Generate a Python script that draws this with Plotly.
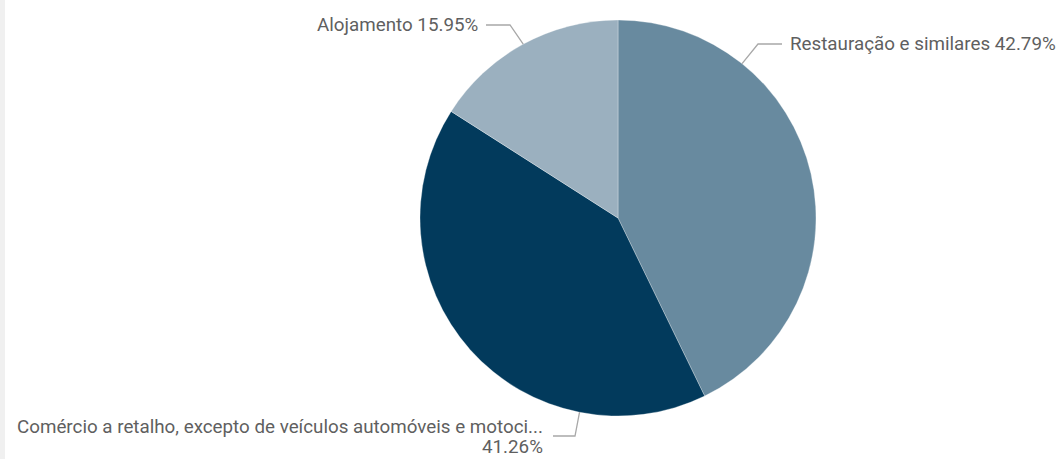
import plotly.graph_objects as go
import math

labels = ["Restauração e similares",
          "Comércio a retalho, excepto de veículos automóveis e motoci...",
          "Alojamento"]
values = [42.79, 41.26, 15.95]
colors = ["#688a9f", "#023a5c", "#9bb0bf"]

W, H = 1061, 459
cx, cy, r = 618, 218, 198
FS = 18.8

fig = go.Figure(go.Pie(
    labels=labels, values=values, sort=False, direction="clockwise", rotation=0,
    marker=dict(colors=colors, line=dict(color="rgba(255,255,255,0.5)", width=0.6)),
    textinfo="none", hoverinfo="label+percent", showlegend=False,
    domain=dict(x=[(cx - r) / W, (cx + r) / W], y=[(H - cy - r) / H, (H - cy + r) / H]),
))

def px(x, y):
    return x / W, 1 - y / H

layout_lbl = [
    dict(ang=38.8, elbow=(758, 44), end=(782, 44),
         texts=[(788, 44, f"{labels[0]} {values[0]:.2f}%")], xanchor="left"),
    dict(ang=191.2, elbow=(575, 436), end=(553, 436),
         texts=[(545, 427, labels[1]), (545, 447, f"{values[1]:.2f}%")], xanchor="right"),
    dict(ang=331.4, elbow=(510, 25), end=(486, 25),
         texts=[(480, 25, f"{labels[2]} {values[2]:.2f}%")], xanchor="right"),
]

shapes = [dict(type="rect", xref="paper", yref="paper", x0=0, x1=5 / W, y0=0, y1=1,
               fillcolor="#f0f0f0", line=dict(width=0), layer="below")]
annotations = []
for L in layout_lbl:
    a = math.radians(L["ang"])
    sx, sy = cx + r * math.sin(a), cy - r * math.cos(a)
    pts = [(sx, sy), L["elbow"], L["end"]]
    path = "M " + " L ".join(f"{px(*p)[0]},{px(*p)[1]}" for p in pts)
    shapes.append(dict(type="path", xref="paper", yref="paper", path=path,
                       line=dict(color="#a8a8a8", width=1.3)))
    for tx, ty, t in L["texts"]:
        x, y = px(tx, ty)
        annotations.append(dict(x=x, y=y, xref="paper", yref="paper", text=t,
                                showarrow=False, xanchor=L["xanchor"], yanchor="middle",
                                font=dict(family="Roboto", size=FS, color="#5f5f5f")))

fig.update_layout(width=W, height=H, margin=dict(l=0, r=0, t=0, b=0),
                  paper_bgcolor="white", plot_bgcolor="white",
                  shapes=shapes, annotations=annotations)
fig.write_html("out.html", config={"displayModeBar": False},
               post_script="document.body.style.margin='0';")
